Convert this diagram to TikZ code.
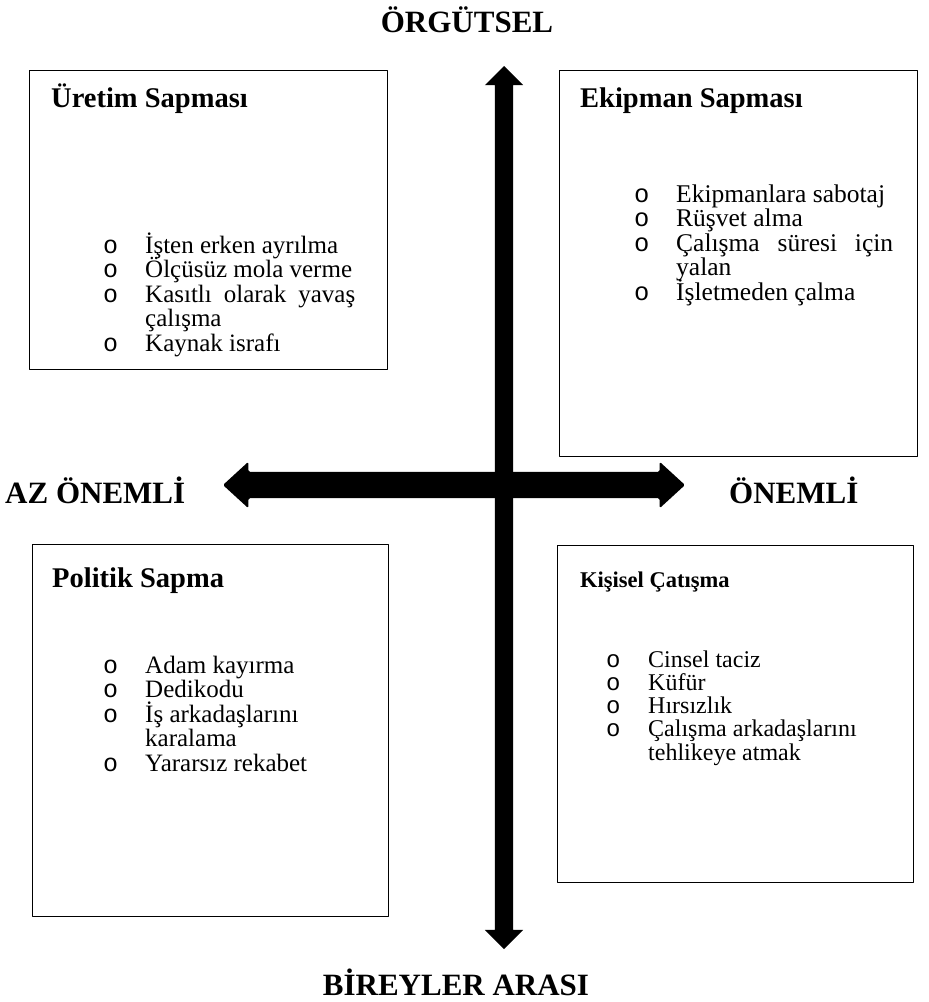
\documentclass[tikz,border=0pt]{standalone}
\usepackage{fontspec}
\setmainfont{Liberation Serif}
\newfontfamily\madfont{Liberation Mono}
\usetikzlibrary{shapes.arrows}

\newcommand{\madde}[1]{\lineskiplimit=-50pt\relax\noindent\hangindent=42pt\hangafter=1\makebox[42pt][l]{\madfont o}#1\par}
\newcommand{\maddesol}[1]{\lineskiplimit=-50pt\relax\noindent\rightskip=0pt plus 1fil\hangindent=42pt\hangafter=1\makebox[42pt][l]{\madfont o}#1\par}

\begin{document}
\begin{tikzpicture}[
            x=1pt, y=-1pt,
            line join=round,
            kutu/.style={draw=black, line width=1.4pt, anchor=north west, inner sep=0pt},
            baslik/.style={anchor=base west, inner sep=0pt, font=\bfseries\fontsize{28.5}{30}\selectfont},
            liste/.style={anchor=base west, inner sep=0pt, align=justify,
                          font=\fontsize{25}{24.5}\selectfont},
            eksenyazi/.style={inner sep=0pt, anchor=base, font=\bfseries\fontsize{31}{36}\selectfont},
            okbicimi/.style={double arrow, fill=black, inner xsep=0pt, double arrow head extend=10pt}
        ]

    % Page
    \fill[white] (0,0) rectangle (929,1002);
    \useasboundingbox (0,0) rectangle (929,1002);

    % Axes
    \node[okbicimi, rotate=90, minimum height=883, inner ysep=9pt,
          double arrow tip angle=90] (dikey) at (504,507.5) {};
    \node[okbicimi, minimum height=462, inner ysep=13pt,
          double arrow tip angle=85, rounded corners=1.5pt] (yatay) at (454,485) {};

    \node[eksenyazi] (orgutsel) at (467,32) {ÖRGÜTSEL};
    \node[eksenyazi] (bireyler) at (456,995) {BİREYLER ARASI};
    \node[eksenyazi, anchor=base west] (azonemli) at (5,503) {AZ ÖNEMLİ};
    \node[eksenyazi, anchor=base west] (onemli) at (729,503) {ÖNEMLİ};

    % Top left
    \node[kutu, minimum width=358, minimum height=299] (uretim) at (29,70) {};
    \node[baslik] (uretimB) at (51,107) {Üretim Sapması};
    \node[liste, text width=252] (uretimL) at (103,253) {%
        \madde{İşten erken ayrılma}
        \madde{Ölçüsüz mola verme}
        \madde{Kasıtlı olarak yavaş çalışma}
        \madde{Kaynak israfı}};

    % Top right
    \node[kutu, minimum width=358, minimum height=386] (ekipman) at (559,70) {};
    \node[baslik] (ekipmanB) at (580,107) {Ekipman Sapması};
    \node[liste, text width=259, font=\fontsize{25.5}{24.6}\selectfont] (ekipmanL) at (634,202) {%
        \madde{Ekipmanlara sabotaj}
        \madde{Rüşvet alma}
        \madde{Çalışma süresi için yalan}
        \madde{İşletmeden çalma}};

    % Bottom left
    \node[kutu, minimum width=356, minimum height=372] (politik) at (32,544) {};
    \node[baslik] (politikB) at (52,587) {Politik Sapma};
    \node[liste, text width=230] (politikL) at (103,673) {%
        \maddesol{Adam kayırma}
        \maddesol{Dedikodu}
        \maddesol{İş arkadaşlarını karalama}
        \maddesol{Yararsız rekabet}};

    % Bottom right
    \node[kutu, minimum width=356, minimum height=337] (kisisel) at (557,545) {};
    \node[baslik, font=\bfseries\fontsize{22.5}{26}\selectfont] (kisiselB) at (580,587) {Kişisel Çatışma};
    \node[liste, text width=290, font=\fontsize{24}{23.3}\selectfont] (kisiselL) at (606,667) {%
        \maddesol{Cinsel taciz}
        \maddesol{Küfür}
        \maddesol{Hırsızlık}
        \maddesol{Çalışma arkadaşlarını tehlikeye atmak}};

\end{tikzpicture}
\end{document}
